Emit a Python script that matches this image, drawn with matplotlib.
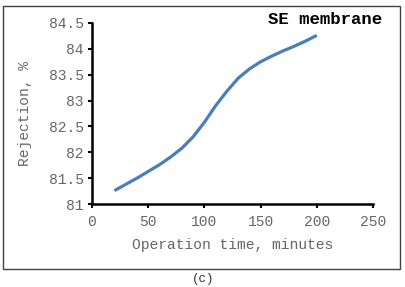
import matplotlib
matplotlib.use("Agg")
import matplotlib.pyplot as plt
from matplotlib.patches import Rectangle

# values
time_min = [20, 30, 40, 50, 60, 70, 80, 90, 100, 110,
            120, 130, 140, 150, 160, 170, 180, 190, 200]
rejection = [81.26, 81.38, 81.50, 81.63, 81.76, 81.91, 82.08, 82.30, 82.58, 82.90,
             83.18, 83.43, 83.61, 83.75, 83.86, 83.96, 84.05, 84.15, 84.26]
x_ticks = [0, 50, 100, 150, 200, 250]
y_ticks = [81, 81.5, 82, 82.5, 83, 83.5, 84, 84.5]
y_tick_labels = ["81", "81.5", "82", "82.5", "83", "83.5", "84", "84.5"]

mono = "Liberation Mono"
grey = "#666666"

fig = plt.figure(figsize=(4.06, 2.87), dpi=100)
ax = fig.add_axes([0.2266, 0.289, 0.692, 0.631])

ax.plot(time_min, rejection, color="#4a7ebb", lw=2.3,
        solid_capstyle="butt", solid_joinstyle="round")

ax.set_xlim(0, 250)
ax.set_ylim(81, 84.5)
ax.set_xticks(x_ticks)
ax.set_yticks(y_ticks)
ax.set_yticklabels(y_tick_labels)

for s in ["top", "right"]:
    ax.spines[s].set_visible(False)
for s in ["left", "bottom"]:
    ax.spines[s].set_linewidth(1.8)
    ax.spines[s].set_color("black")

ax.tick_params(direction="out", length=3, width=1.5, colors="black",
               labelcolor=grey, labelsize=10.5)
ax.tick_params(axis="x", pad=5)
ax.tick_params(axis="y", pad=3)
for lab in ax.get_xticklabels() + ax.get_yticklabels():
    lab.set_fontfamily(mono)

ax.set_xlabel("Operation time, minutes", fontfamily=mono, fontsize=10.5,
              color=grey, labelpad=6)
ax.set_ylabel("Rejection, %", fontfamily=mono, fontsize=10.5,
              color=grey, labelpad=12)

fig.text(382 / 406, 1 - 20 / 287, "SE membrane", fontfamily=mono,
         fontweight="bold", fontsize=12.5, ha="right", va="center")
fig.text(203 / 406, 1 - 279 / 287, "(c)", fontfamily=mono, fontsize=9,
         ha="center", va="center", color="#333333")

fig.patches.append(Rectangle((3 / 406, 1 - 269 / 287), 397 / 406, 263 / 287,
                             transform=fig.transFigure, fill=False,
                             edgecolor="#404040", lw=1.0))

fig.savefig("out.png", dpi=100)
